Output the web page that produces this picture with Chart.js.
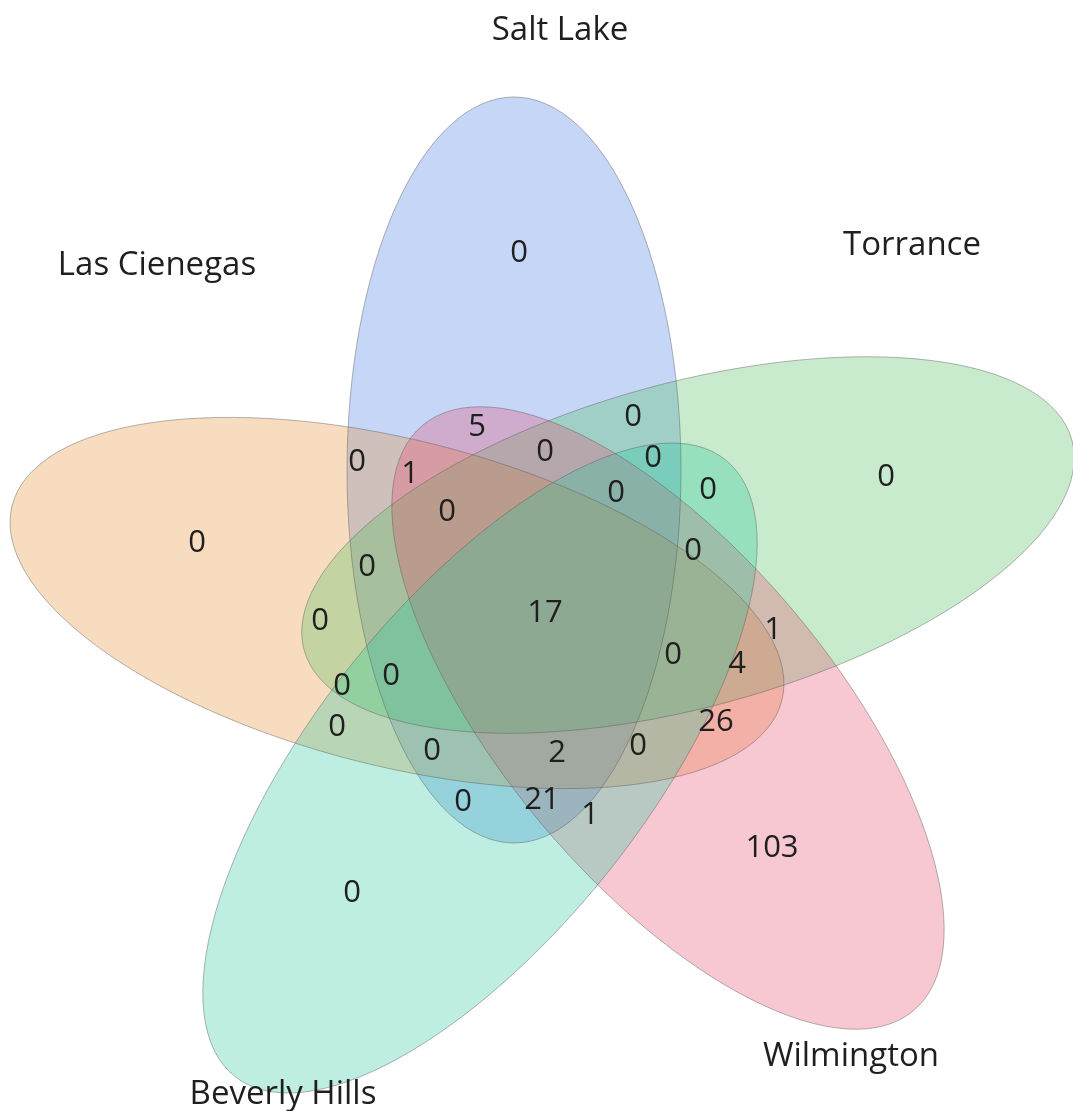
<!DOCTYPE html>
<html><head><meta charset="utf-8">
<script src="https://cdn.jsdelivr.net/npm/chart.js@4.4.1/dist/chart.umd.min.js"></script>
<style>html,body{margin:0;padding:0;background:#fff;overflow:hidden}#wrap{width:1073px;height:1111px}</style>
</head><body><div id="wrap"><canvas id="c" width="1073" height="1111"></canvas></div>
<script>
// ---- data ----
const setNames = ["Salt Lake", "Torrance", "Wilmington", "Beverly Hills", "Las Cienegas"];
const regionCounts = [
  0, 0, 0, 0, 103,
  5, 0, 1, 0, 0, 0, 0, 0, 0, 0,
  0, 0, 17, 0, 1, 4, 0, 0, 0, 26,
  0, 2, 0, 0, 21, 1
];

// ---- layout (positions / sizes, in picture units) ----
const setLabelPos = [[560, 31], [912, 246], [851, 1057], [283, 1095], [157, 266]];
const regionPos = [
  [519, 253], [886, 477], [197, 543], [352, 893], [772, 848],
  [477, 427], [357, 462], [410, 474], [447, 512], [545, 452], [633, 417], [653, 458], [616, 493], [708, 490], [693, 551],
  [367, 567], [320, 621], [545, 613], [673, 655], [773, 630], [737, 664], [342, 686], [391, 676], [337, 727], [716, 722],
  [432, 751], [557, 753], [638, 746], [463, 802], [542, 800], [590, 815]
];
// ellipse geometry per set: centre x, centre y, semi-axis a, semi-axis b, rotation (deg)
const ellCx  = [514, 688, 668, 480, 397];
const ellCy  = [470, 545, 718, 768, 603];
const ellA   = [167, 398, 382, 394, 397];
const ellB   = [373, 162, 165, 165, 163];
const ellRot = [0, -15.3, 50, -51.5, 14.2];

// ---- styles ----
const setColors = ["rgba(65,118,228,0.30)", "rgba(72,188,88,0.30)", "rgba(228,72,105,0.30)", "rgba(38,198,155,0.30)", "rgba(232,138,45,0.30)"];
const drawOrder = [0, 4, 1, 2, 3];
const FONT = "'Open Sans','Noto Sans','DejaVu Sans',sans-serif";

const W = 1073, H = 1111;

const vennPlugin = {
  id: 'venn',
  beforeDatasetsDraw(chart) {
    const {ctx, scales: {x, y}} = chart;
    const sx = (x.getPixelForValue(W) - x.getPixelForValue(0)) / W;
    const sy = (y.getPixelForValue(H) - y.getPixelForValue(0)) / H;
    const path = i => {
      ctx.beginPath();
      ctx.ellipse(x.getPixelForValue(ellCx[i]), y.getPixelForValue(ellCy[i]),
        ellA[i] * Math.abs(sx), ellB[i] * Math.abs(sy), ellRot[i] * Math.PI / 180, 0, Math.PI * 2);
    };
    ctx.save();
    drawOrder.forEach(i => { path(i); ctx.fillStyle = setColors[i]; ctx.fill(); });
    drawOrder.forEach(i => { path(i); ctx.strokeStyle = "rgba(90,90,90,0.45)"; ctx.lineWidth = 1; ctx.stroke(); });
    ctx.restore();
  },
  afterDatasetsDraw(chart) {
    const {ctx} = chart;
    ctx.save();
    ctx.textAlign = 'center';
    ctx.textBaseline = 'middle';
    ctx.fillStyle = '#1f1f1f';
    chart.getDatasetMeta(0).data.forEach((pt, i) => {
      ctx.font = "31px " + FONT;
      ctx.fillText(String(regionCounts[i]), pt.x, pt.y);
    });
    chart.getDatasetMeta(1).data.forEach((pt, i) => {
      ctx.font = "33px " + FONT;
      ctx.fillText(setNames[i], pt.x, pt.y);
    });
    ctx.restore();
  }
};

new Chart(document.getElementById('c'), {
  type: 'scatter',
  data: {
    datasets: [
      {label: 'regions', data: regionPos.map(p => ({x: p[0], y: p[1]})), pointRadius: 0, pointHoverRadius: 0},
      {label: 'sets', data: setLabelPos.map(p => ({x: p[0], y: p[1]})), pointRadius: 0, pointHoverRadius: 0}
    ]
  },
  options: {
    responsive: false,
    animation: false,
    events: [],
    layout: {padding: 0},
    scales: {
      x: {type: 'linear', min: 0, max: W, display: false},
      y: {type: 'linear', min: 0, max: H, reverse: true, display: false}
    },
    plugins: {legend: {display: false}, tooltip: {enabled: false}}
  },
  plugins: [vennPlugin]
});
</script>
</body></html>
